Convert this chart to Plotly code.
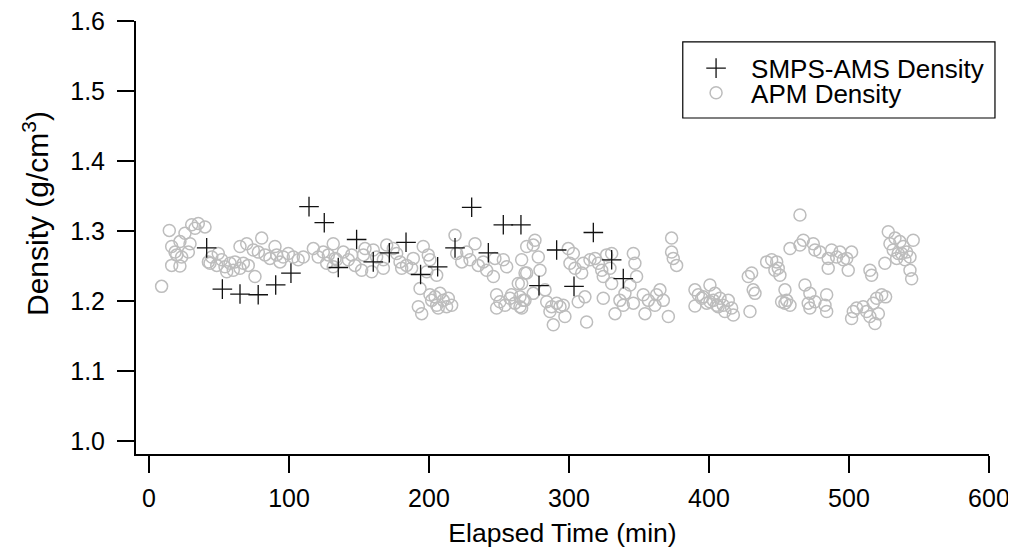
import plotly.graph_objects as go

# SMPS-AMS Density (crosses)
smps_time = [41.2, 52.4, 65.0, 78.0, 90.5, 101.4, 114.3, 125.2, 135.2, 148.3, 160.2, 171.7, 183.6,
             194.0, 206.2, 218.6, 230.5, 242.4, 253.1, 265.7, 278.6, 291.2, 303.6, 317.4, 330.5, 338.8]
smps_density = [1.276, 1.217, 1.210, 1.209, 1.223, 1.240, 1.335, 1.312, 1.248, 1.288, 1.256, 1.269, 1.284,
                1.238, 1.249, 1.276, 1.334, 1.269, 1.309, 1.309, 1.222, 1.273, 1.221, 1.298, 1.259, 1.232]

# APM Density (open circles)
apm_time = [
    9.0, 14.5, 16.2, 18.6, 22.1, 25.7, 29.3, 28.1, 23.3, 16.2, 22.1, 19.8, 30.5, 35.2, 40.0, 32.9,
    42.4, 44.8, 49.5, 51.9, 48.4, 43.6, 54.3, 57.9, 61.4, 55.5, 60.2, 65.0, 67.4, 70.9, 65.0, 69.8,
    74.5, 75.7, 80.5, 78.1, 82.9, 86.4, 90.0, 91.2, 93.6, 95.9, 99.5, 103.1, 106.6, 110.2, 117.4, 120.9,
    124.5, 128.1, 131.6, 134.0, 131.6, 126.9,
    132.9, 138.8, 142.4, 147.1, 144.8, 151.9, 153.1, 154.3, 160.2, 162.6, 167.4, 159.1, 167.4, 169.8,
    174.5, 176.9, 179.3, 180.5, 184.0, 187.6, 188.8, 195.9, 199.5, 200.7, 198.4, 205.5,
    193.6, 192.4, 194.8, 200.7, 204.3, 207.9, 210.2, 213.8, 216.2, 212.6, 205.5, 201.9, 206.6,
    218.6, 219.8, 223.4, 227.0, 229.3, 232.9, 235.2, 238.8, 241.2, 246.0, 247.1, 253.1, 255.5, 266.2,
    269.8, 269.8,
    248.3, 250.7, 248.3, 254.3, 257.9, 261.4, 259.0, 265.0, 267.4, 263.8,
    275.7, 274.5, 278.1, 268.6, 279.3, 266.2, 265.0, 268.6, 266.2, 274.5,
    282.9, 284.1, 287.6, 291.2, 293.6, 295.9, 297.1, 288.8, 286.4,
    299.5, 303.1, 300.7, 304.3, 309.1, 310.2, 315.0, 318.6, 321.0, 326.9, 330.5, 323.4, 329.3, 324.5,
    330.5,
    311.4, 306.6, 312.6, 324.5, 332.9, 336.4, 340.0, 338.8, 343.6, 346.0, 347.1, 348.3, 346.0, 353.1,
    354.3, 356.7, 362.6, 365.0, 367.4, 371.0, 361.4,
    373.3, 373.3, 374.5, 376.9,
    390.0, 392.4, 390.0, 394.8, 398.4, 400.7, 404.3, 406.6, 403.1,
    395.9, 400.7, 405.5, 407.9, 410.2, 413.8, 416.2, 417.4, 411.4,
    429.3, 428.1, 430.5, 431.6, 432.9,
    441.2, 444.8, 448.4, 449.5, 450.7, 447.1,
    454.3, 451.9, 454.3, 457.9, 455.5,
    465.0,
    457.9, 465.0, 467.4, 474.5, 475.7, 479.3, 485.2, 487.6, 491.2, 493.6, 496.0, 499.5, 485.2, 501.9,
    498.4,
    468.6, 472.1, 470.9, 472.1, 475.7, 484.1, 482.9, 484.1,
    515.0, 516.2,
    503.1, 501.9, 505.5, 510.2, 512.6, 515.0, 517.4, 519.8, 523.4, 521.0, 518.6, 526.2,
    525.7, 528.1, 529.3, 532.9, 531.6, 535.2, 534.1,
    536.4, 538.8, 545.9, 537.6, 541.2, 543.6, 540.0, 543.6, 544.8,
]
apm_density = [
    1.221, 1.301, 1.278, 1.270, 1.285, 1.297, 1.282, 1.270, 1.263, 1.251, 1.250, 1.266, 1.309, 1.311, 1.306, 1.304,
    1.256, 1.263, 1.268, 1.259, 1.251, 1.254, 1.249, 1.254, 1.256, 1.242, 1.244, 1.247, 1.254, 1.251, 1.278, 1.282,
    1.273, 1.235, 1.290, 1.270, 1.266, 1.261, 1.278, 1.266, 1.256, 1.263, 1.268, 1.263, 1.259, 1.263, 1.275, 1.263,
    1.270, 1.266, 1.282, 1.259, 1.249, 1.254,
    1.261, 1.270, 1.259, 1.251, 1.266, 1.244, 1.266, 1.275, 1.273, 1.263, 1.259, 1.242, 1.247, 1.280,
    1.275, 1.268, 1.256, 1.247, 1.251, 1.247, 1.261, 1.278, 1.266, 1.259, 1.242, 1.237,
    1.218, 1.192, 1.182, 1.209, 1.206, 1.211, 1.201, 1.204, 1.194, 1.192, 1.194, 1.201, 1.190,
    1.294, 1.268, 1.256, 1.270, 1.259, 1.282, 1.251, 1.256, 1.244, 1.235, 1.261, 1.259, 1.249, 1.259,
    1.278, 1.240,
    1.209, 1.199, 1.190, 1.194, 1.204, 1.197, 1.209, 1.192, 1.201, 1.225,
    1.287, 1.280, 1.263, 1.240, 1.244, 1.225, 1.206, 1.201, 1.190, 1.211,
    1.216, 1.199, 1.192, 1.197, 1.192, 1.194, 1.178, 1.166, 1.185,
    1.275, 1.268, 1.254, 1.247, 1.240, 1.254, 1.259, 1.261, 1.254, 1.266, 1.268, 1.244, 1.247, 1.235,
    1.225,
    1.206, 1.199, 1.170, 1.204, 1.182, 1.201, 1.211, 1.194, 1.223, 1.268, 1.254, 1.235, 1.197, 1.209,
    1.182, 1.201, 1.209, 1.216, 1.201, 1.178, 1.194,
    1.290, 1.270, 1.261, 1.251,
    1.216, 1.209, 1.193, 1.204, 1.197, 1.223, 1.211, 1.192, 1.201,
    1.206, 1.199, 1.194, 1.204, 1.194, 1.201, 1.190, 1.180, 1.185,
    1.185, 1.235, 1.240, 1.216, 1.211,
    1.256, 1.259, 1.256, 1.247, 1.237, 1.244,
    1.216, 1.199, 1.197, 1.194, 1.201,
    1.323,
    1.275, 1.280, 1.287, 1.282, 1.273, 1.270, 1.261, 1.273, 1.263, 1.270, 1.259, 1.244, 1.247, 1.270,
    1.261,
    1.223, 1.211, 1.197, 1.190, 1.199, 1.209, 1.194, 1.185,
    1.244, 1.237,
    1.185, 1.175, 1.190, 1.192, 1.185, 1.178, 1.197, 1.204, 1.209, 1.182, 1.168, 1.206,
    1.254, 1.299, 1.282, 1.290, 1.273, 1.268, 1.261,
    1.285, 1.278, 1.287, 1.268, 1.270, 1.263, 1.259, 1.244, 1.232,
]

x_ticks = [0, 100, 200, 300, 400, 500, 600]
y_ticks = [1.0, 1.1, 1.2, 1.3, 1.4, 1.5, 1.6]

FONT = "Liberation Sans, Arial, sans-serif"

fig = go.Figure()
fig.add_trace(go.Scatter(
    x=apm_time, y=apm_density, mode="markers", name="APM Density", legend="legend2",
    marker=dict(symbol="circle-open", size=12, color="#bdbdbd", line=dict(width=1.5, color="#bdbdbd")),
))
fig.add_trace(go.Scatter(
    x=smps_time, y=smps_density, mode="markers", name="SMPS-AMS Density", legend="legend",
    marker=dict(symbol="cross-thin-open", size=14, color="#111111", line=dict(width=1.3, color="#111111")),
))

axis_common = dict(
    showgrid=False, zeroline=False, showline=True, linecolor="black", linewidth=2,
    ticks="outside", ticklen=17, tickwidth=1.5, tickcolor="black",
    tickfont=dict(family=FONT, size=25, color="black"), ticklabeloverflow="allow",
)

legend_common = dict(xanchor="left", yanchor="middle", bgcolor="rgba(0,0,0,0)", borderwidth=0,
                     font=dict(family=FONT, size=26, color="black"), itemwidth=60)

fig.update_layout(
    width=1008, height=542,
    margin=dict(l=128, r=27, t=13, b=96, autoexpand=False),
    paper_bgcolor="white", plot_bgcolor="white",
    font=dict(family=FONT, size=25, color="black"),
    xaxis=dict(range=[-9.29, 600.05], tickvals=x_ticks, ticktext=[str(v) for v in x_ticks],
               ticklabelstandoff=4,
               title=dict(text="Elapsed Time (min)", font=dict(family=FONT, size=26.5), standoff=12),
               **axis_common),
    yaxis=dict(range=[0.9814, 1.6003], tickvals=y_ticks,
               ticktext=[f"{v:.1f}" for v in y_ticks], ticklabelstandoff=7,
               **axis_common),
    showlegend=True,
    legend=dict(x=0.639, y=0.891, **legend_common),
    legend2=dict(x=0.639, y=0.834, **legend_common),
    shapes=[dict(type="rect", xref="paper", yref="paper", x0=0.641, x1=1.007, y0=0.776, y1=0.952,
                 line=dict(color="black", width=1.2), fillcolor="rgba(0,0,0,0)", layer="above")],
    annotations=[dict(text="Density (g/cm<sup>3</sup>)", textangle=-90, xref="paper", yref="paper",
                      x=-0.118, y=0.555, xanchor="center", yanchor="middle", showarrow=False,
                      font=dict(family=FONT, size=30, color="black"))],
)

fig.write_html("out.html")
